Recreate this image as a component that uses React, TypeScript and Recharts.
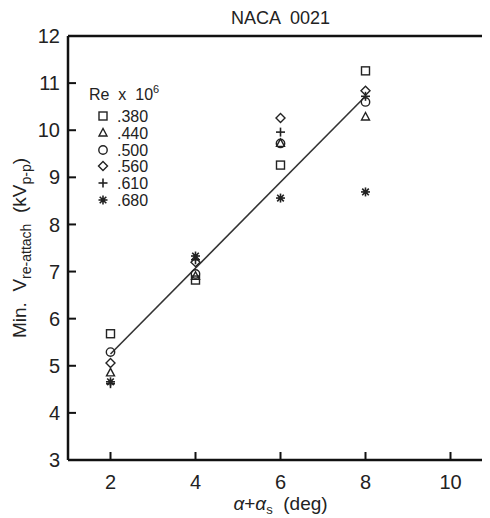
import React from 'react';
import { ComposedChart, Scatter, XAxis, YAxis, Legend, ReferenceLine } from 'recharts';

const xValues = [2, 4, 6, 8];
const re380 = [5.68, 6.82, 9.26, 11.26];
const re440 = [4.85, 6.9, 9.72, 10.28];
const re500 = [5.29, 6.95, 9.72, 10.6];
const re560 = [5.06, 7.2, 10.26, 10.84];
const re610 = [4.62, 7.25, 9.96, 10.72];
const re680 = [4.66, 7.33, 8.56, 8.69];
const fitX = [2, 8];
const fitY = [5.25, 10.72];
const xTicks = [2, 4, 6, 8, 10];
const yTicks = [3, 4, 5, 6, 7, 8, 9, 10, 11, 12];
const seriesLabels = ['.380', '.440', '.500', '.560', '.610', '.680'];
const seriesKinds = ['square', 'triangle', 'circle', 'diamond', 'plus', 'star'];
const seriesValues = [re380, re440, re500, re560, re610, re680];

const FONT = '"Liberation Sans", Arial, Helvetica, sans-serif';
const INK = '#222';
const PRE = { whiteSpace: 'pre' as const };

const toPoints = (xs: number[], ys: number[]) => xs.map((x, i) => ({ x, y: ys[i] }));
const fitData = toPoints(fitX, fitY);

function Marker({ kind, cx, cy }: { kind: string; cx: number; cy: number }) {
  const s = 4;
  const common = { fill: 'none', stroke: INK, strokeWidth: 1.4 };
  switch (kind) {
    case 'square':
      return <rect x={cx - s} y={cy - s} width={2 * s} height={2 * s} {...common} />;
    case 'triangle':
      return <polygon points={`${cx},${cy - 4.5} ${cx - 4},${cy + 3} ${cx + 4},${cy + 3}`} {...common} />;
    case 'circle':
      return <circle cx={cx} cy={cy} r={4.2} {...common} />;
    case 'diamond':
      return <polygon points={`${cx},${cy - 4.5} ${cx + 4.5},${cy} ${cx},${cy + 4.5} ${cx - 4.5},${cy}`} {...common} />;
    case 'plus':
      return (
        <g stroke={INK} strokeWidth={1.6}>
          <line x1={cx - 4.5} y1={cy} x2={cx + 4.5} y2={cy} />
          <line x1={cx} y1={cy - 4.5} x2={cx} y2={cy + 4.5} />
        </g>
      );
    case 'star':
    default:
      return (
        <g stroke={INK} strokeWidth={1.6}>
          <line x1={cx - 4.5} y1={cy} x2={cx + 4.5} y2={cy} />
          <line x1={cx} y1={cy - 4.5} x2={cx} y2={cy + 4.5} />
          <line x1={cx - 3.3} y1={cy - 3.3} x2={cx + 3.3} y2={cy + 3.3} />
          <line x1={cx - 3.3} y1={cy + 3.3} x2={cx + 3.3} y2={cy - 3.3} />
          <circle cx={cx} cy={cy} r={2.2} fill={INK} stroke="none" />
        </g>
      );
  }
}

const makeShape = (kind: string) => (props: any) => <Marker kind={kind} cx={props.cx} cy={props.cy} />;

function LegendBox() {
  const rows = [36, 53, 70, 86, 103, 120];
  return (
    <svg width={110} height={130} style={{ overflow: 'visible', display: 'block' }}>
      <text x={9} y={20} fontFamily={FONT} fontSize={16} fill={INK} style={PRE}>
        {'Re  x  10'}<tspan dy={-7} fontSize={11}>6</tspan>
      </text>
      {seriesLabels.map((lab, i) => (
        <g key={lab}>
          <Marker kind={seriesKinds[i]} cx={23} cy={rows[i]} />
          <text x={37} y={rows[i] + 6} fontFamily={FONT} fontSize={16} fill={INK}>
            {lab}
          </text>
        </g>
      ))}
    </svg>
  );
}

const YLabel = (props: any) => {
  const vb = props.viewBox || { x: 0, y: 28, width: 60, height: 424 };
  const cx = vb.x + 18;
  const cy = vb.y + vb.height / 2;
  return (
    <text
      x={cx}
      y={cy}
      transform={`rotate(-90 ${cx} ${cy})`}
      textAnchor="middle"
      fontFamily={FONT}
      fontSize={19}
      fill={INK}
      style={PRE}
    >
      {'Min.  V'}<tspan dy={5} fontSize={14}>re-attach</tspan>
      <tspan dy={-5}>{'  (kV'}</tspan>
      <tspan dy={5} fontSize={14}>p-p</tspan>
      <tspan dy={-5}>)</tspan>
    </text>
  );
};

const XLabel = (props: any) => {
  const vb = props.viewBox || { x: 60, y: 452, width: 425, height: 58 };
  const cx = vb.x + vb.width / 2;
  const cy = vb.y + 50;
  return (
    <text x={cx} y={cy} textAnchor="middle" fontFamily={FONT} fontSize={19} fill={INK} style={PRE}>
      <tspan fontStyle="italic">α</tspan>+<tspan fontStyle="italic">α</tspan>
      <tspan dy={4} fontSize={13}>s</tspan>
      <tspan dy={-4}>{'  (deg)'}</tspan>
    </text>
  );
};

const TitleLabel = (props: any) => {
  const vb = props.viewBox || { x: 60, y: 28, width: 425, height: 0 };
  const cx = vb.x + vb.width / 2;
  return (
    <text x={cx} y={16} textAnchor="middle" fontFamily={FONT} fontSize={18} fill={INK} style={PRE}>
      {'NACA  0021'}
    </text>
  );
};

export default function App() {
  const tickStyle = { fontFamily: FONT, fontSize: 20, fill: INK };
  return (
    <div style={{ width: 482, height: 510, overflow: 'hidden', position: 'relative' }}>
      <ComposedChart width={500} height={510} margin={{ top: 28, right: 15, bottom: 0, left: 0 }}>
        <XAxis
          type="number"
          dataKey="x"
          domain={[1, 11]}
          ticks={xTicks}
          height={58}
          tickSize={-8}
          tickMargin={23}
          tick={tickStyle}
          tickLine={{ stroke: '#111', strokeWidth: 2 }}
          axisLine={{ stroke: '#111', strokeWidth: 2.5 }}
          allowDataOverflow
          label={<XLabel />}
        />
        <YAxis
          type="number"
          dataKey="y"
          domain={[3, 12]}
          ticks={yTicks}
          width={60}
          tickSize={-8}
          tickMargin={16}
          tick={tickStyle}
          tickLine={{ stroke: '#111', strokeWidth: 2 }}
          axisLine={{ stroke: '#111', strokeWidth: 2.5 }}
          allowDataOverflow
          label={<YLabel />}
        />
        <ReferenceLine
          y={12}
          stroke="#111"
          strokeWidth={2.5}
          ifOverflow="visible"
          label={<TitleLabel />}
        />
        <Scatter
          name="fit"
          data={fitData}
          line={{ stroke: '#333', strokeWidth: 1.6 }}
          shape={() => <g />}
          legendType="none"
          isAnimationActive={false}
        />
        {seriesValues.map((vals, i) => (
          <Scatter
            key={seriesLabels[i]}
            name={seriesLabels[i]}
            data={toPoints(xValues, vals)}
            shape={makeShape(seriesKinds[i])}
            isAnimationActive={false}
          />
        ))}
        <Legend
          layout="horizontal"
          verticalAlign="middle"
          align="center"
          content={() => <LegendBox />}
          wrapperStyle={{ position: 'absolute', left: 72, top: 72, width: 110, height: 130 }}
        />
      </ComposedChart>
    </div>
  );
}
